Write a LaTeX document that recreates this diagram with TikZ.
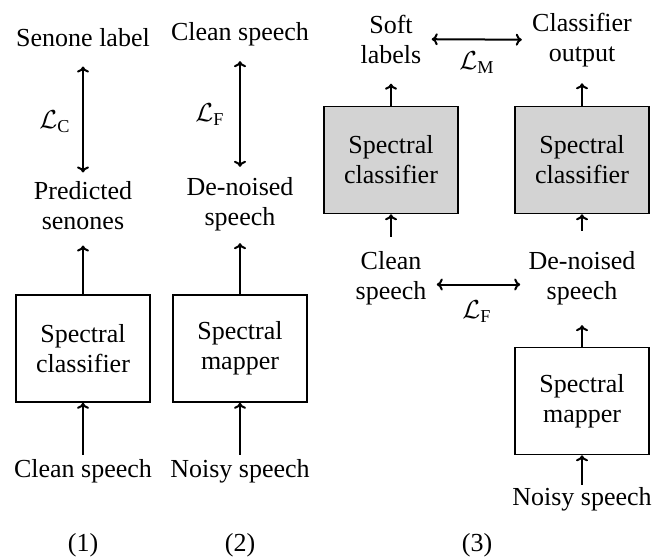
\documentclass[tikz,border=0pt]{standalone}
\usepackage{fix-cm}
\usepackage{fontspec}
\setmainfont{Liberation Serif}
\usetikzlibrary{arrows.meta}
\definecolor{boxgray}{RGB}{211,211,211}
\begin{document}
\begin{tikzpicture}[x=0.5pt, y=-0.5pt]
	\tikzstyle{word}   = [align=center, inner sep=0pt, font=\fontsize{13}{15}\selectfont]
	\tikzstyle{block}  = [draw=black, line width=0.75pt, minimum width=67pt, minimum height=53.5pt, inner sep=0pt, align=center, font=\fontsize{13}{15}\selectfont]
	\tikzstyle{shaded} = [block, fill=boxgray]
	\tikzstyle{flow}   = [-{To[length=3pt, width=6pt]}, line width=1pt]
	\tikzstyle{loss}   = [{To[length=3pt, width=6pt]}-{To[length=3pt, width=6pt]}, line width=1pt]

	\useasboundingbox (0,0) rectangle (663,559);

	% (1) classifier
	\node[word] (senone) at (83,38) {Senone label};
	\node[word] (pred) at (83,206) {Predicted\\senones};
	\node[block] (clsA) at (83,348.5) {Spectral\\classifier};
	\node[word] (cleanA) at (83,471) {Clean speech};
	\node[word] (lossC) at (55,122) {$\mathcal{L}_{\mathrm{C}}$};

	% (2) mapper
	\node[word] (cleanB) at (240,34) {Clean speech};
	\node[word] (denB) at (240,204) {De-noised\\speech};
	\node[block] (mapB) at (240,348.5) {Spectral\\mapper};
	\node[word] (noisyB) at (240,471) {Noisy speech};
	\node[word] (lossFB) at (210,115) {$\mathcal{L}_{\mathrm{F}}$};

	% (3) joint training
	\node[word] (soft) at (391,39) {Soft\\labels};
	\node[word] (clsout) at (582,40) {Classifier\\output};
	\node[shaded] (clsB) at (391,160) {Spectral\\classifier};
	\node[shaded] (clsC) at (582,160) {Spectral\\classifier};
	\node[word] (clean3) at (391,278) {Clean\\speech};
	\node[word] (den3) at (582,278) {De-noised\\speech};
	\node[block] (mapC) at (582,401) {Spectral\\mapper};
	\node[word] (noisyC) at (582,499) {Noisy speech};
	\node[word] (lossM) at (477,63) {$\mathcal{L}_{\mathrm{M}}$};
	\node[word] (lossFC) at (477,312) {$\mathcal{L}_{\mathrm{F}}$};

	\foreach \name/\text/\x in {lab1/(1)/83, lab2/(2)/240, lab3/(3)/477}
		\node[word] (\name) at (\x,545) {\text};

	% losses
	\draw[loss, shorten <=9.5pt, shorten >=4.5pt] (senone) -- (pred);
	\draw[loss, shorten <=7.5pt, shorten >=5pt] (cleanB) -- (denB);
	\draw[loss, shorten <=5pt, shorten >=5pt] (soft) -- (clsout);
	\draw[loss, shorten <=5pt, shorten >=4pt] ([yshift=-3.25pt]clean3.east) -- ([yshift=-3.25pt]den3.west);

	% data flow
	\draw[flow, shorten >=7.5pt] (clsA) -- (pred);
	\draw[flow, shorten >=6pt] (mapB) -- (denB);
	\draw[flow, shorten <=2pt] (cleanA) -- (clsA);
	\draw[flow, shorten <=2pt] (noisyB) -- (mapB);
	\draw[flow, shorten >=10pt] (clsB) -- (soft);
	\draw[flow, shorten >=8pt] (clsC) -- (clsout);
	\draw[flow, shorten <=7pt] (clean3) -- (clsB);
	\draw[flow, shorten <=10pt] (den3) -- (clsC);
	\draw[flow, shorten >=10pt] (mapC) -- (den3);
	\draw[flow, shorten <=1pt] (noisyC) -- (mapC);
\end{tikzpicture}
\end{document}
